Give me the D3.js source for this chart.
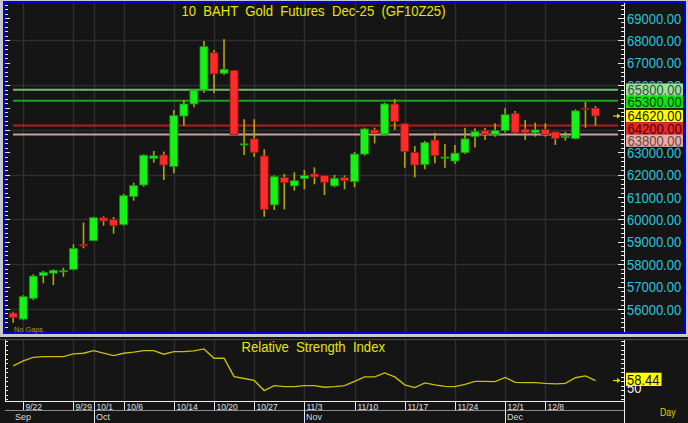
<!DOCTYPE html>
<html><head><meta charset="utf-8">
<script src="https://cdn.jsdelivr.net/npm/d3@7"></script>
<style>
html,body{margin:0;padding:0;background:#c8c8c8;overflow:hidden;}
svg{display:block;}
text{font-family:"Liberation Sans",Arial,sans-serif;}
</style></head><body>
<svg id="chart" width="688" height="423"></svg>
<script>
// ---------- DATA ----------
const dates = ["9/19","9/22","9/23","9/24","9/25","9/26","9/29","9/30","10/1","10/2","10/3","10/6","10/7","10/8","10/9","10/10",
 "10/14","10/15","10/16","10/17","10/20","10/21","10/22","10/24","10/27","10/28","10/29","10/30","10/31","11/3","11/4","11/5",
 "11/6","11/7","11/10","11/11","11/12","11/13","11/14","11/17","11/18","11/19","11/20","11/21","11/24","11/25","11/26","11/27",
 "11/28","12/1","12/2","12/3","12/4","12/8","12/9","12/10","12/11","12/12","12/15"];
const open  = [55820,55550,56480,57490,57600,57660,57770,58890,59050,60070,59990,59770,61020,61540,62730,62880,
 62360,64620,65160,65780,67450,66530,66650,63370,63600,62840,60650,61870,61500,61820,62030,61960,
 61500,61870,61690,62920,64000,63810,65160,64270,63000,62450,63550,62780,62610,62980,63700,63970,
 63800,63970,64740,64030,63880,64030,63910,63690,63610,64970,64970];
const high  = [55880,56610,57550,57700,57770,57840,58890,59860,60120,60140,60110,61140,61640,62910,63060,63030,
 64890,65340,65820,67970,67570,68050,66680,64480,64480,63140,61970,62030,62110,62210,62330,61970,
 61990,61970,63010,64100,64100,65220,65380,64300,63280,63510,63890,63370,63330,64100,64070,64100,
 64300,64970,64850,64440,64320,64300,63910,63920,64920,65250,65070];
const low   = [55390,55510,56400,57150,57070,57440,57730,58710,59040,59720,59370,59720,60840,61460,62540,61760,
 62060,64190,65010,65660,65640,66450,63790,62880,62800,60120,60420,60450,61290,61350,61570,61090,
 61440,61350,61440,62850,63400,63770,64000,62310,61880,62240,62510,62310,62480,62920,63210,63550,
 63700,63890,63800,63550,63700,63700,63330,63520,63580,64100,64190];
const close = [55610,56550,57470,57640,57730,57720,58710,58820,60080,59930,59720,61060,61510,62870,62840,62430,
 64640,65160,65780,67720,66500,66710,63800,63380,63000,60450,61910,61640,61730,61960,61900,61660,
 61840,61730,62920,64040,63850,65160,64370,63030,62430,63430,62850,62790,62960,63600,63920,63800,
 63970,64680,63880,63880,64000,63800,63610,63710,64850,64930,64620];
const rsi = [73.1,78.1,81.6,82.4,82.4,82.4,85.1,85.8,88.4,85.9,83.4,85.8,86.9,88.4,88.4,84.8,
 87.4,87.4,88.1,90.1,80.8,80.8,62.4,60.5,58.6,48.4,53.4,52.4,52.4,53.4,53.4,51.8,
 52.4,53.4,57.6,62.1,62.1,66.1,62.1,54.1,51.4,56.1,54.1,52.6,52.4,54.6,57.6,57.6,
 57.4,61.6,56.6,56.4,56.4,55.6,55.1,55.6,61.3,63.1,58.44];
const priceLabels = [56000,57000,58000,59000,60000,61000,62000,63000,64000,65000,66000,67000,68000,69000];
const gridPrices = [56000,58000,60000,62000,64000,66000,68000];
const dateTickLabels = ["9/22","9/29","10/1","10/6","10/14","10/20","10/27","11/3","11/10","11/17","11/24","12/1","12/8"];
const monthNames = ["Sep","Oct","Nov","Dec"];
const monthStarts = ["9/19","10/1","11/3","12/1"];
const refLevels = [65800,65300,64620,64200,63800];
const lastPrice = 64620;
const lastRsi = 58.44;
const rsiAxisLabel = 50;
const title = "10  BAHT  Gold  Futures  Dec-25  (GF10Z25)";
const rsiTitle = "Relative  Strength  Index";

// ---------- STYLE ----------
const BG = "#151515", GRID = "#2f2f2f", WICK = "#b4a800";
const refLineColors = {65800:"#6cb86c",65300:"#1fa01f",64620:null,64200:"#b01e1e",63800:"#c8a0a0"};
const refBoxFill = {65800:"#96e696",65300:"#0ee40e",64620:"#ffff00",64200:"#e82626",63800:"#f0aaa2"};
const refBoxText = {65800:"#4a4a4a",65300:"#0a3a0a",64620:"#202000",64200:"#3a0808",63800:"#5e4c4c"};

const svg = d3.select("#chart");
const defs = svg.append("defs");
const x = d3.scaleLinear().domain([0, dates.length - 1]).range([13.2, 595.5]);
const y = d3.scaleLinear().domain([56000, 69000]).range([309, 18]);
const yR = d3.scaleLinear().domain([38, 100]).range([401, 339]);
const PL = 5, PR = 624, PT = 3, PB = 332;

function axisText(sel, tx, ty, txt, fill){
  return sel.append("text").attr("transform",`translate(${tx},${ty}) scale(1,1.18)`)
    .attr("font-size",13).attr("fill",fill).text(txt);
}

svg.append("rect").attr("width",688).attr("height",423).attr("fill","#c8c8c8");
svg.append("rect").attr("x",4).attr("y",2).attr("width",681).attr("height",331)
  .attr("fill",BG).attr("stroke","#0000d8").attr("stroke-width",2);
svg.append("rect").attr("x",0).attr("y",337).attr("width",688).attr("height",86).attr("fill",BG);
svg.append("line").attr("x1",0).attr("x2",688).attr("y1",339.5).attr("y2",339.5).attr("stroke","#4a4a4a");

const gridX = dateTickLabels.map(d => x(dates.indexOf(d)));

const g = svg.append("g");
g.selectAll(".vg").data(gridX).join("line")
  .attr("x1",d=>Math.round(d)+0.5).attr("x2",d=>Math.round(d)+0.5).attr("y1",PT).attr("y2",PB)
  .attr("stroke",GRID).attr("stroke-width",1.5);
g.selectAll(".hg").data(gridPrices).join("line")
  .attr("x1",PL).attr("x2",PR).attr("y1",d=>Math.round(y(d))+0.5).attr("y2",d=>Math.round(y(d))+0.5)
  .attr("stroke",GRID).attr("stroke-width",1.5);

refLevels.filter(v => refLineColors[v]).forEach(v => {
  svg.append("line").attr("x1",13).attr("x2",618).attr("y1",y(v)).attr("y2",y(v))
    .attr("stroke",refLineColors[v]).attr("stroke-width",2);
});

const idx = d3.range(dates.length);
const cg = svg.append("g");
cg.selectAll(".wick").data(idx).join("line")
  .attr("x1",i=>x(i)).attr("x2",i=>x(i)).attr("y1",i=>y(high[i])).attr("y2",i=>y(low[i]))
  .attr("stroke",WICK).attr("stroke-width",1.6);
cg.selectAll(".body").data(idx).join("rect")
  .attr("x",i=>x(i)-4).attr("width",8)
  .attr("y",i=>y(Math.max(open[i],close[i])))
  .attr("height",i=>Math.max(1.2, Math.abs(y(open[i])-y(close[i]))))
  .attr("fill",i=> close[i]>=open[i] ? "#18f018" : "#ff2a2a")
  .attr("stroke",i=> close[i]>=open[i] ? "#168a16" : "#8a1616")
  .attr("stroke-width",0.8);

const minor = d3.range(55000, 69801, 200);
const at = svg.append("g");
minor.forEach(v => {
  const yy = Math.round(y(v)) + 0.5;
  if (yy < PT+1 || yy > PB-1) return;
  const major = v % 1000 === 0;
  at.append("line").attr("x1",PR).attr("x2",PR-(major?6:3)).attr("y1",yy).attr("y2",yy).attr("stroke","#e8e8e8");
  at.append("line").attr("x1",PL).attr("x2",PL+(major?5:3)).attr("y1",yy).attr("y2",yy).attr("stroke","#e8e8e8");
});
svg.append("line").attr("x1",PR+0.5).attr("x2",PR+0.5).attr("y1",PT).attr("y2",PB).attr("stroke","#f0f0f0");

// ref boxes positions (collision avoidance)
const boxH = 12.3;
let prevBottom = -Infinity;
const boxes = refLevels.slice().sort((a,b)=>b-a).map(v => {
  let top = y(v) - boxH/2;
  if (top < prevBottom) top = prevBottom;
  prevBottom = top + boxH;
  return {v, top, bottom: top + boxH};
});

// price labels: only the part not hidden behind the boxes is drawn
const lg = svg.append("g");
priceLabels.forEach((d,k) => {
  const t0 = y(d) - 6, t1 = y(d) + 6;
  let segs = [[t0,t1]];
  boxes.forEach(b => {
    segs = segs.flatMap(([a,c]) => {
      if (b.bottom <= a || b.top >= c) return [[a,c]];
      const out = [];
      if (b.top > a) out.push([a,b.top]);
      if (b.bottom < c) out.push([b.bottom,c]);
      return out;
    });
  });
  const vis = d3.sum(segs, s => s[1]-s[0]);
  if (vis < 3) return;
  const t = axisText(lg, 627, y(d)+5.5, d3.format(".2f")(d), "#26c6dc");
  if (vis < 11.9) {
    const cp = defs.append("clipPath").attr("id","lc"+k);
    segs.forEach(s => cp.append("rect").attr("x",620).attr("y",s[0]).attr("width",68).attr("height",s[1]-s[0]));
    t.attr("clip-path",null);
    lg.append("g").attr("clip-path",`url(#lc${k})`).node().appendChild(t.node());
  }
});

boxes.forEach(b => {
  svg.append("rect").attr("x",626).attr("y",b.top).attr("width",57).attr("height",boxH).attr("fill",refBoxFill[b.v]);
  axisText(svg, 627.5, b.top+boxH/2+5.3, d3.format(".2f")(b.v), refBoxText[b.v]);
});

function marker(yy){
  svg.append("line").attr("x1",613).attr("x2",618).attr("y1",yy).attr("y2",yy).attr("stroke","#e8d800").attr("stroke-width",1.2);
  svg.append("path").attr("d",`M617,${yy-2.5}L620.5,${yy}L617,${yy+2.5}Z`).attr("fill","#e8d800");
}
marker(y(lastPrice));

svg.append("text").attr("x",181.5).attr("y",16).attr("font-size",15).attr("fill","#e6e600")
  .attr("textLength",264).attr("lengthAdjust","spacingAndGlyphs").style("white-space","pre").text(title);
svg.append("text").attr("x",14).attr("y",332).attr("font-size",8).attr("fill","#a89c20")
  .attr("textLength",29).attr("lengthAdjust","spacingAndGlyphs").text("No Gaps");

// ---------- RSI panel ----------
const rg = svg.append("g");
rg.selectAll(".vgr").data(gridX).join("line")
  .attr("x1",d=>Math.round(d)+0.5).attr("x2",d=>Math.round(d)+0.5).attr("y1",340).attr("y2",401)
  .attr("stroke",GRID).attr("stroke-width",1.5);
d3.range(40, 101, 4.5).forEach(v => {
  const yy = Math.round(yR(v)) + 0.5;
  rg.append("line").attr("x1",PR).attr("x2",PR-3).attr("y1",yy).attr("y2",yy).attr("stroke","#e8e8e8");
  rg.append("line").attr("x1",PL).attr("x2",PL+3).attr("y1",yy).attr("y2",yy).attr("stroke","#e8e8e8");
});
rg.append("line").attr("x1",PL+0.5).attr("x2",PL+0.5).attr("y1",340).attr("y2",401.5).attr("stroke","#f0f0f0");
rg.append("line").attr("x1",PR+0.5).attr("x2",PR+0.5).attr("y1",340).attr("y2",423).attr("stroke","#f0f0f0");
rg.append("line").attr("x1",PL).attr("x2",PR).attr("y1",401.5).attr("y2",401.5).attr("stroke","#f0f0f0");

rg.append("path").datum(idx)
  .attr("d", d3.line().x(i=>x(i)).y(i=>yR(rsi[i])))
  .attr("fill","none").attr("stroke","#c8c000").attr("stroke-width",1.4);

rg.append("text").attr("x",241.5).attr("y",351.7).attr("font-size",14).attr("fill","#e6e600")
  .attr("textLength",143.5).attr("lengthAdjust","spacingAndGlyphs").style("white-space","pre").text(rsiTitle);

// "50" label partly hidden below the value box
defs.append("clipPath").attr("id","c50").append("rect").attr("x",620).attr("y",386).attr("width",68).attr("height",12);
const g50 = rg.append("g").attr("clip-path","url(#c50)");
axisText(g50, 627, 392.7, rsiAxisLabel, "#f0f0f0");
rg.append("rect").attr("x",626).attr("y",372.7).attr("width",35.5).attr("height",13.3).attr("fill","#ffff00");
axisText(rg, 627, 384.8, d3.format(".2f")(lastRsi), "#101000");
marker(yR(lastRsi));

// ---------- date axis ----------
const da = svg.append("g");
da.append("line").attr("x1",PL).attr("x2",PR).attr("y1",410.5).attr("y2",410.5).attr("stroke","#8a8a8a");
dateTickLabels.forEach(d => {
  const xx = Math.round(x(dates.indexOf(d))) + 0.5;
  da.append("line").attr("x1",xx).attr("x2",xx).attr("y1",401).attr("y2",410).attr("stroke","#e8e8e8");
  da.append("text").attr("x",xx+2).attr("y",409.5).attr("font-size",8.5).attr("fill","#e0e0e0").text(d);
});
monthNames.forEach((m,k) => {
  const i0 = dates.indexOf(monthStarts[k]);
  const xx = Math.round(x(i0)) + 0.5;
  if (k > 0) da.append("line").attr("x1",xx).attr("x2",xx).attr("y1",401).attr("y2",423).attr("stroke","#e8e8e8");
  da.append("text").attr("x",xx+1.5).attr("y",419.5).attr("font-size",9).attr("fill","#d8d8d8").text(m);
});
svg.append("text").attr("x",660).attr("y",416).attr("font-size",11).attr("fill","#e0d000")
  .attr("textLength",15.5).attr("lengthAdjust","spacingAndGlyphs").text("Day");
</script>
</body></html>
